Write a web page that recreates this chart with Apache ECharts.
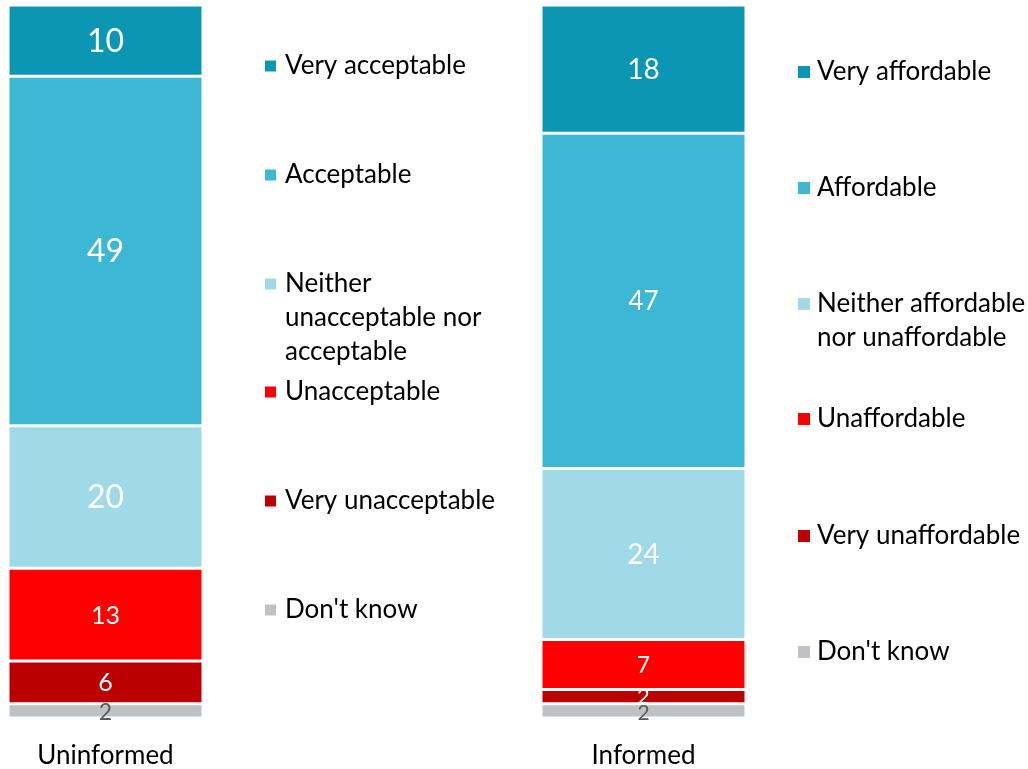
<!DOCTYPE html>
<html>
<head>
<meta charset="utf-8">
<script src="https://cdn.jsdelivr.net/npm/echarts@6/dist/echarts.min.js"></script>
<style>
  html, body { margin: 0; padding: 0; background: #fff; }
  #chart { width: 1028px; height: 769px; }
</style>
</head>
<body>
<div id="chart"></div>
<script>
// Survey responses (%), one stacked column per group, listed bottom to top
const leftCategory = ['Uninformed'];
const rightCategory = ['Informed'];

const leftNames = ["Don't know", 'Very unacceptable', 'Unacceptable',
  'Neither unacceptable nor acceptable', 'Acceptable', 'Very acceptable'];
const leftValues = [2, 6, 13, 20, 49, 10];

const rightNames = ["Don't know", 'Very unaffordable', 'Unaffordable',
  'Neither affordable nor unaffordable', 'Affordable', 'Very affordable'];
const rightValues = [2, 2, 7, 24, 47, 18];

// Shared palette, bottom to top
const colors = ['#BEC2C6', '#BB0000', '#FF0000', '#A0DAE8', '#3CB7D4', '#0B96B4'];
const labelColors = ['#595959', '#fff', '#fff', '#fff', '#fff', '#fff'];
const leftLabelSizes = [23, 25, 25, 32, 32, 32];
const rightLabelSizes = [21, 22, 23, 28, 26, 28];
const leftLabelOffsets = [[0, 2], [0, 1], [0, 1], [0, 1], [0, 1], [0, 1]];
const rightLabelOffsets = [[0, 2], [0, 0], [0, 1], [0, 1], [0, 1], [0, 1]];

// Legend text lines per entry (top to bottom) and centre of the first line
const leftLegend = [
  { name: 'Very acceptable', lines: ['Very acceptable'], y: 66 },
  { name: 'Acceptable', lines: ['Acceptable'], y: 175 },
  { name: 'Neither unacceptable nor acceptable', lines: ['Neither', 'unacceptable nor', 'acceptable'], y: 284 },
  { name: 'Unacceptable', lines: ['Unacceptable'], y: 392 },
  { name: 'Very unacceptable', lines: ['Very unacceptable'], y: 501 },
  { name: "Don't know", lines: ["Don't know"], y: 610 }
];
const rightLegend = [
  { name: 'Very affordable', lines: ['Very affordable'], y: 72 },
  { name: 'Affordable', lines: ['Affordable'], y: 188 },
  { name: 'Neither affordable nor unaffordable', lines: ['Neither affordable', 'nor unaffordable'], y: 304 },
  { name: 'Unaffordable', lines: ['Unaffordable'], y: 419 },
  { name: 'Very unaffordable', lines: ['Very unaffordable'], y: 536 },
  { name: "Don't know", lines: ["Don't know"], y: 652 }
];

const FONT = 'Lato, "Open Sans", sans-serif';
const LH = 34;

function buildSeries(names, values, gridIdx, sizes, offsets) {
  return names.map((n, i) => ({
    name: n,
    type: 'bar',
    stack: 'g' + gridIdx,
    xAxisIndex: gridIdx,
    yAxisIndex: gridIdx,
    barWidth: '100%',
    data: [values[i]],
    itemStyle: { color: colors[i], borderColor: '#fff', borderWidth: 1.5 },
    label: {
      show: true,
      position: 'inside',
      color: labelColors[i],
      fontFamily: FONT,
      fontSize: sizes[i],
      offset: offsets[i]
    },
    emphasis: { disabled: true }
  }));
}

function buildLegends(entries, left, icon, textPad) {
  return entries.map(e => {
    const n = e.lines.length;
    // pad with blank lines above so the first line sits beside the icon
    const pad = new Array(n - 1).fill('').concat(e.lines).join('\n');
    const totalLines = 2 * n - 1;
    return {
      data: [e.name],
      left: left,
      top: e.y - (totalLines * LH) / 2,
      orient: 'vertical',
      padding: 0,
      itemWidth: icon,
      itemHeight: icon,
      itemGap: 0,
      icon: 'rect',
      formatter: () => pad,
      textStyle: { fontFamily: FONT, fontSize: 26, color: '#000', lineHeight: LH, padding: [0, 0, 0, textPad] }
    };
  });
}

const chart = echarts.init(document.getElementById('chart'), null, { renderer: 'canvas' });

const axisCommon = {
  type: 'category',
  axisLine: { show: false },
  axisTick: { show: false },
  axisLabel: { fontFamily: FONT, fontSize: 26, color: '#000', margin: 25 }
};
const valueCommon = { type: 'value', min: 0, max: 100, show: false };

chart.setOption({
  animation: false,
  backgroundColor: '#fff',
  grid: [
    { left: 8, top: 5, width: 195, height: 714 },
    { left: 541, top: 5, width: 205, height: 714 }
  ],
  xAxis: [
    Object.assign({ gridIndex: 0, data: leftCategory }, axisCommon),
    Object.assign({ gridIndex: 1, data: rightCategory }, axisCommon)
  ],
  yAxis: [
    Object.assign({ gridIndex: 0 }, valueCommon),
    Object.assign({ gridIndex: 1 }, valueCommon)
  ],
  legend: buildLegends(leftLegend, 263, 13, 3).concat(buildLegends(rightLegend, 796, 14, 1)),
  series: buildSeries(leftNames, leftValues, 0, leftLabelSizes, leftLabelOffsets)
    .concat(buildSeries(rightNames, rightValues, 1, rightLabelSizes, rightLabelOffsets))
});
</script>
</body>
</html>
